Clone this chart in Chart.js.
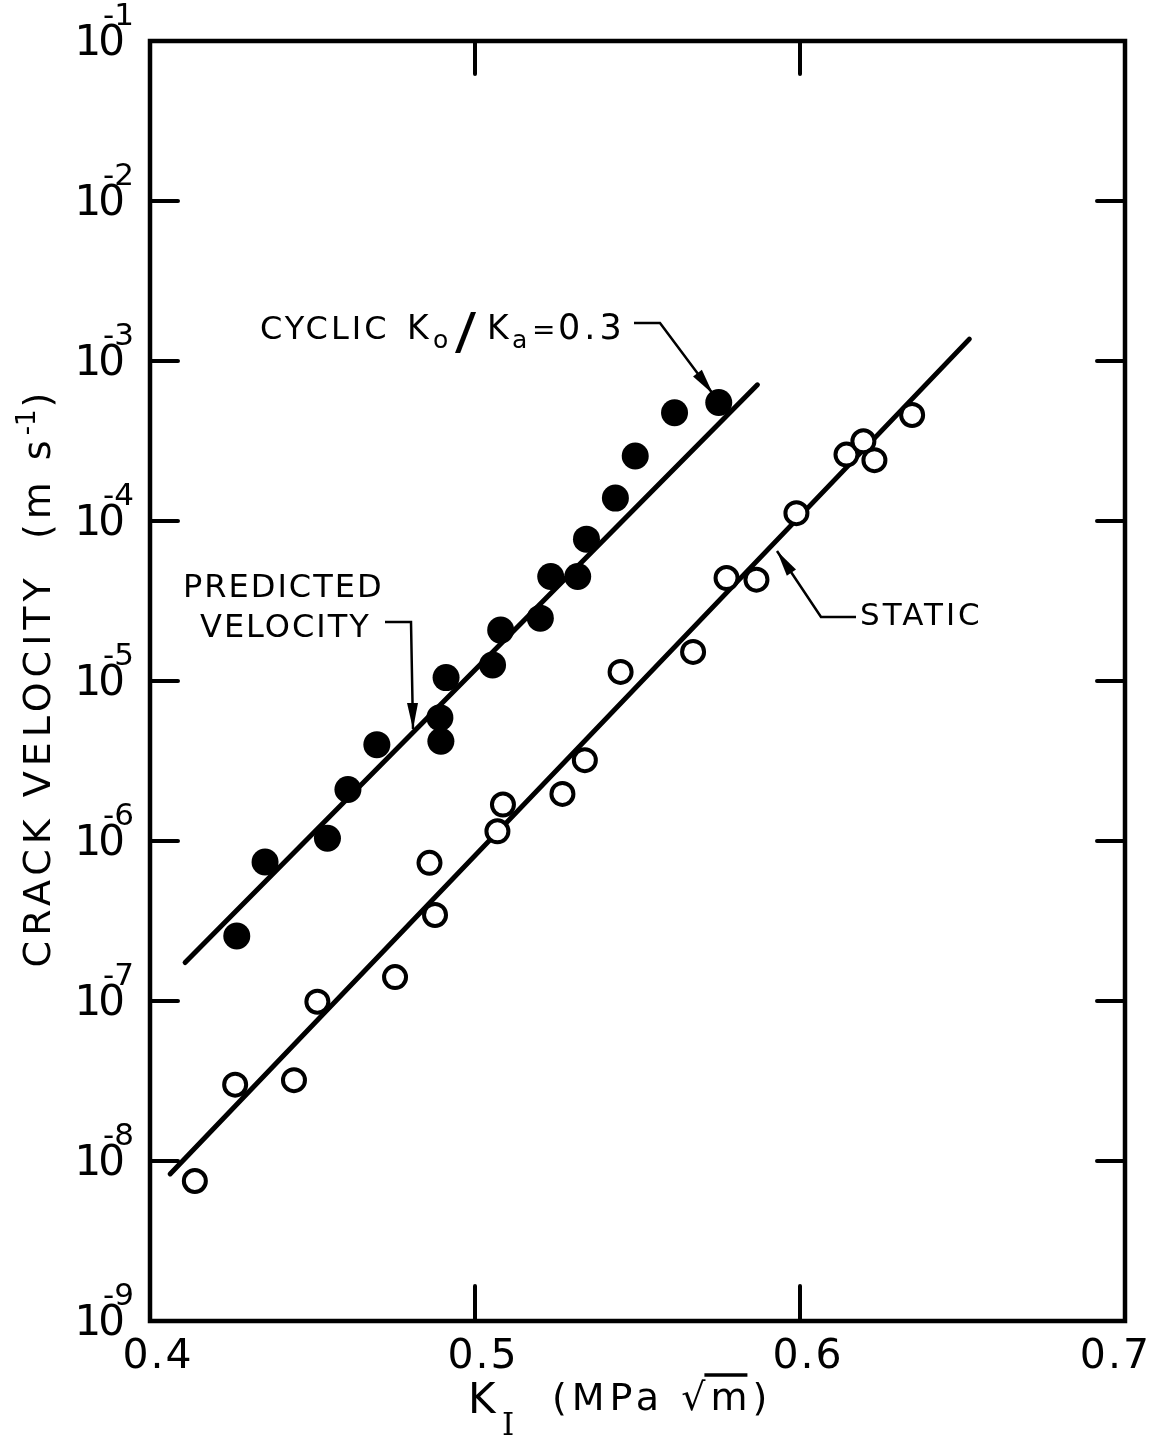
<!DOCTYPE html>
<html>
<head>
<meta charset="utf-8">
<script src="https://cdn.jsdelivr.net/npm/chart.js@4.4.1/dist/chart.umd.min.js"></script>
<style>
  html, body { margin: 0; padding: 0; background: #fff; }
  canvas { display: block; }
</style>
</head>
<body>
<canvas id="crackChart" width="1158" height="1444"></canvas>
<script>
// values: K_I in MPa*m^0.5, crack velocity in m/s
const cyclicK = [0.4267, 0.4354, 0.4546, 0.4609, 0.4698, 0.4895, 0.4892, 0.4911, 0.5054, 0.5079, 0.5201, 0.5233, 0.5316, 0.5343, 0.5432, 0.5493, 0.5614, 0.5750];
const cyclicV = [2.55e-7, 7.4e-7, 1.04e-6, 2.1e-6, 4.0e-6, 4.2e-6, 5.9e-6, 1.05e-5, 1.26e-5, 2.08e-5, 2.47e-5, 4.5e-5, 4.5e-5, 7.7e-5, 1.39e-4, 2.55e-4, 4.75e-4, 5.5e-4];

const staticK = [0.4138, 0.4262, 0.4443, 0.4515, 0.4754, 0.4877, 0.4860, 0.5069, 0.5086, 0.5269, 0.5338, 0.5448, 0.5671, 0.5774, 0.5866, 0.5989, 0.6143, 0.6195, 0.6229, 0.6345];
const staticV = [7.5e-9, 3.0e-8, 3.2e-8, 9.9e-8, 1.41e-7, 3.45e-7, 7.3e-7, 1.15e-6, 1.69e-6, 1.97e-6, 3.2e-6, 1.14e-5, 1.52e-5, 4.4e-5, 4.3e-5, 1.12e-4, 2.6e-4, 3.15e-4, 2.4e-4, 4.6e-4];

// straight lines, end points only
const predictedK = [0.4108, 0.5869];
const predictedV = [1.74e-7, 7.1e-4];
const staticFitK = [0.4062, 0.6521];
const staticFitV = [8.3e-9, 1.37e-3];

const xTicks = [0.4, 0.5, 0.6, 0.7];
const xTickLabels = ['0.4', '0.5', '0.6', '0.7'];
const yTickExps = [-1, -2, -3, -4, -5, -6, -7, -8, -9];

const FONT = '"DejaVu Sans", sans-serif';
const f = size => size + 'px ' + FONT;

function toPoints(xs, ys) {
    return xs.map((x, i) => ({ x: x, y: ys[i] }));
}

// text runs drawn one after another on a baseline
function runsWidth(ctx, runs) {
    let w = 0;
    runs.forEach(r => {
        ctx.font = r.font;
        ctx.letterSpacing = r.ls || '0px';
        w += ctx.measureText(r.text).width + (r.gap || 0);
    });
    return w;
}

function drawRuns(ctx, x, y, runs) {
    runs.forEach(r => {
        ctx.font = r.font;
        ctx.letterSpacing = r.ls || '0px';
        const px = r.at !== undefined ? r.at : x;
        ctx.save();
        ctx.translate(px, y + (r.dy || 0));
        ctx.scale(r.sx || 1, 1);
        ctx.fillText(r.text, 0, 0);
        ctx.restore();
        x = px + ctx.measureText(r.text).width * (r.sx || 1) + (r.gap || 0);
    });
    ctx.letterSpacing = '0px';
    return x;
}

function arrow(ctx, pts) {
    ctx.beginPath();
    ctx.moveTo(pts[0][0], pts[0][1]);
    pts.slice(1).forEach(p => ctx.lineTo(p[0], p[1]));
    ctx.stroke();
    const [x1, y1] = pts[pts.length - 2];
    const [x2, y2] = pts[pts.length - 1];
    const a = Math.atan2(y2 - y1, x2 - x1);
    const len = 26, half = 5.5;
    ctx.beginPath();
    ctx.moveTo(x2, y2);
    ctx.lineTo(x2 - len * Math.cos(a) + half * Math.sin(a), y2 - len * Math.sin(a) - half * Math.cos(a));
    ctx.lineTo(x2 - len * Math.cos(a) - half * Math.sin(a), y2 - len * Math.sin(a) + half * Math.cos(a));
    ctx.closePath();
    ctx.fill();
}

const decorations = {
    id: 'decorations',
    afterDraw(chart) {
        const ctx = chart.ctx;
        const area = chart.chartArea;
        const xs = chart.scales.x, ys = chart.scales.y;
        ctx.save();
        ctx.strokeStyle = '#000';
        ctx.fillStyle = '#000';

        // frame
        ctx.lineWidth = 4.5;
        ctx.strokeRect(area.left, area.top, area.right - area.left, area.bottom - area.top);

        // inward ticks
        ctx.lineWidth = 4;
        ctx.lineCap = 'round';
        yTickExps.slice(1, -1).forEach(e => {
            const y = ys.getPixelForValue(Math.pow(10, e));
            ctx.beginPath();
            ctx.moveTo(area.left, y); ctx.lineTo(area.left + 28, y);
            ctx.moveTo(area.right, y); ctx.lineTo(area.right - 28, y);
            ctx.stroke();
        });
        xTicks.slice(1, -1).forEach(v => {
            const x = xs.getPixelForValue(v);
            ctx.beginPath();
            ctx.moveTo(x, area.top); ctx.lineTo(x, area.top + 33);
            ctx.moveTo(x, area.bottom); ctx.lineTo(x, area.bottom - 35);
            ctx.stroke();
        });

        // y tick labels: 10 with exponent
        yTickExps.forEach(e => {
            const y = ys.getPixelForValue(Math.pow(10, e));
            ctx.textAlign = 'right';
            ctx.textBaseline = 'middle';
            ctx.font = f(42);
            ctx.letterSpacing = '-3px';
            ctx.fillText('10', 122, y + 3);
            ctx.letterSpacing = '0px';
            ctx.textAlign = 'left';
            ctx.textBaseline = 'alphabetic';
            ctx.font = f(31);
            ctx.fillText('-' + Math.abs(e), 103, y - 16);
        });

        // x tick labels
        ctx.textBaseline = 'middle';
        ctx.font = f(41);
        ctx.letterSpacing = '2px';
        xTicks.forEach((v, i) => {
            const x = xs.getPixelForValue(v);
            if (i === xTicks.length - 1) {
                ctx.textAlign = 'right';
                ctx.fillText(xTickLabels[i], x + 26, area.bottom + 36);
            } else {
                ctx.textAlign = 'center';
                ctx.fillText(xTickLabels[i], x + 8, area.bottom + 36);
            }
        });
        ctx.letterSpacing = '0px';

        // y axis title
        ctx.textAlign = 'left';
        ctx.textBaseline = 'alphabetic';
        const yTitle = [
            { text: 'CRACK VELOCITY  (m s', font: f(38), ls: '5px' },
            { text: '-1', font: f(26), dy: -15, gap: 2 },
            { text: ')', font: f(38) }
        ];
        ctx.save();
        ctx.translate(50, 680);
        ctx.rotate(-Math.PI / 2);
        drawRuns(ctx, -runsWidth(ctx, yTitle) / 2, 0, yTitle);
        ctx.restore();

        // x axis title: K_I (MPa sqrt m)
        ctx.font = f(42);
        ctx.fillText('K', 468, 1413);
        ctx.font = '31px "DejaVu Serif", serif';
        ctx.fillText('I', 502, 1435);
        ctx.font = f(38);
        ctx.letterSpacing = '5px';
        const pre = '(MPa \u221A';
        ctx.fillText(pre, 552, 1410);
        const mx = 552 + ctx.measureText(pre).width;
        ctx.fillText('m)', mx, 1410);
        const mw = ctx.measureText('m').width - 5;
        ctx.letterSpacing = '0px';
        ctx.lineWidth = 3.5;
        ctx.lineCap = 'butt';
        ctx.beginPath();
        ctx.moveTo(mx - 6, 1375); ctx.lineTo(mx + mw, 1375);
        ctx.stroke();

        // annotations
        ctx.lineWidth = 2.5;
        ctx.lineCap = 'butt';
        drawRuns(ctx, 260, 339, [
            { text: 'CYCLIC', font: f(32), ls: '3px' },
            { text: 'K', font: f(33), at: 407 },
            { text: 'o', font: f(25), dy: 9, at: 433 },
            { text: '/', font: f(50), dy: 9, sx: 1.25, at: 455 },
            { text: 'K', font: f(33), at: 487 },
            { text: 'a', font: f(25), dy: 9, at: 512 },
            { text: '=', font: f(28), at: 532 },
            { text: '0.3', font: f(35), ls: '4px', at: 558 }
        ]);
        arrow(ctx, [[634, 323], [660, 323], [713, 394]]);

        drawRuns(ctx, 183, 597, [{ text: 'PREDICTED', font: f(32), ls: '2px' }]);
        drawRuns(ctx, 200, 637, [{ text: 'VELOCITY', font: f(32), ls: '2px' }]);
        arrow(ctx, [[385, 622], [411, 622], [413, 729]]);

        drawRuns(ctx, 860, 625, [{ text: 'STATIC', font: f(31), ls: '3px' }]);
        arrow(ctx, [[856, 617], [821, 617], [777, 551]]);

        ctx.restore();
    }
};

const chart = new Chart(document.getElementById('crackChart'), {
    type: 'scatter',
    data: {
        datasets: [
            {
                label: 'Cyclic Ko/Ka = 0.3',
                data: toPoints(cyclicK, cyclicV),
                pointRadius: 13.5,
                pointBackgroundColor: '#000',
                pointBorderColor: '#000',
                pointBorderWidth: 0,
                order: 0
            },
            {
                label: 'Static',
                data: toPoints(staticK, staticV),
                pointRadius: 11,
                pointBackgroundColor: '#fff',
                pointBorderColor: '#000',
                pointBorderWidth: 4,
                order: 0
            },
            {
                type: 'line',
                label: 'Predicted velocity',
                data: toPoints(predictedK, predictedV),
                borderColor: '#000',
                borderWidth: 5,
                borderCapStyle: 'round',
                pointRadius: 0,
                fill: false,
                order: 1
            },
            {
                type: 'line',
                label: 'Static fit',
                data: toPoints(staticFitK, staticFitV),
                borderColor: '#000',
                borderWidth: 5,
                borderCapStyle: 'round',
                pointRadius: 0,
                fill: false,
                order: 1
            }
        ]
    },
    options: {
        responsive: false,
        animation: false,
        layout: {
            padding: { left: 150, right: 33, top: 41, bottom: 123 }
        },
        plugins: {
            legend: { display: false },
            tooltip: { enabled: false }
        },
        scales: {
            x: { type: 'linear', display: false, min: 0.4, max: 0.7 },
            y: { type: 'logarithmic', display: false, min: 1e-9, max: 1e-1 }
        }
    },
    plugins: [decorations]
});
</script>
</body>
</html>
